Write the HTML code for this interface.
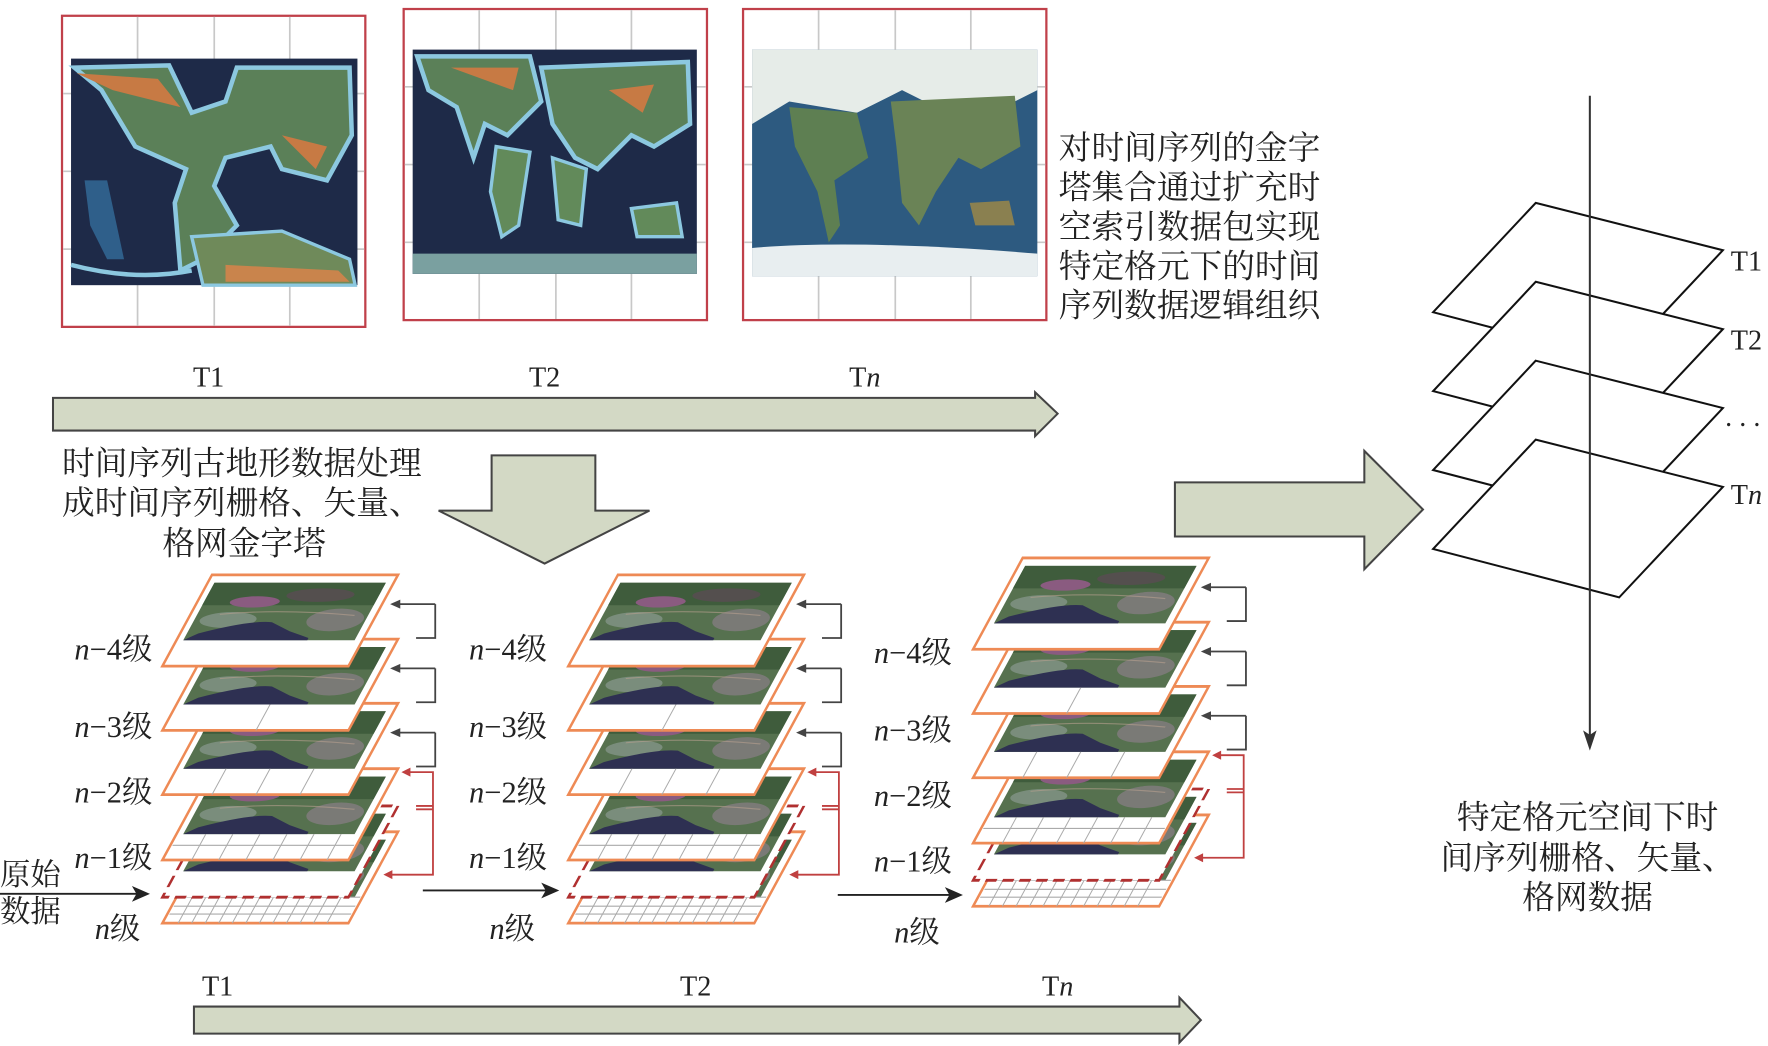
<!DOCTYPE html>
<html><head><meta charset="utf-8"><style>
html,body{margin:0;padding:0;background:#fff;overflow:hidden}
svg{display:block}
.s{font-family:"Liberation Serif","Noto Serif CJK SC",serif;fill:#222}
.c{font-family:"Liberation Serif","Noto Serif CJK SC",serif;fill:#222;font-size:29px}
</style></head><body>
<svg width="1768" height="1046" viewBox="0 0 1568 928" preserveAspectRatio="none" xmlns="http://www.w3.org/2000/svg">
<defs>
<g id="sat">
 <rect x="50" y="7" width="152" height="51" fill="#56714f"/>
 <rect x="50" y="7" width="152" height="20" fill="#3f5c3c"/>
 <ellipse cx="95" cy="24" rx="22" ry="5" fill="#8a5b80"/>
 <ellipse cx="150" cy="18" rx="30" ry="6" fill="#5e4a55" opacity=".7"/>
 <ellipse cx="175" cy="40" rx="25" ry="10" fill="#8a7f88" opacity=".7"/>
 <ellipse cx="80" cy="40" rx="25" ry="7" fill="#8a9a90" opacity=".7"/>
 <path d="M50 58 L60 52 Q100 40 120 42 L140 50 L160 56 L160 58 Z" fill="#2e3052"/>
 <path d="M70 35 Q120 30 190 36" stroke="#b8a090" stroke-width="1" fill="none" opacity=".6"/>
</g>
<g id="pyr">
 <g transform="translate(0,228) skewX(-28.5)">
  <rect x="44" y="0" width="165" height="81" fill="#fff" stroke="#ee8a55" stroke-width="2.5"/>
  <use href="#sat"/>
  <g stroke="#aaa" stroke-width="1">
   <line x1="46" y1="58" x2="207" y2="58"/><line x1="46" y1="66" x2="207" y2="66"/><line x1="46" y1="73" x2="207" y2="73"/>
   <path d="M58 58V81M70 58V81M82 58V81M94 58V81M106 58V81M118 58V81M130 58V81M142 58V81M154 58V81M166 58V81M178 58V81M190 58V81"/>
  </g>
 </g>
 <g transform="translate(0,205) skewX(-28.5)">
  <rect x="44" y="0" width="165" height="81" fill="#fff" stroke="#b03030" stroke-width="2.5" stroke-dasharray="10,5"/>
  <use href="#sat"/>
 </g>
 <g transform="translate(0,172) skewX(-28.5)">
  <rect x="44" y="0" width="165" height="81" fill="#fff" stroke="#ee8a55" stroke-width="2.5"/>
  <use href="#sat"/>
  <g stroke="#aaa" stroke-width="1">
   <line x1="46" y1="68" x2="207" y2="68"/>
   <path d="M70 58V81M94 58V81M118 58V81M142 58V81M166 58V81M190 58V81"/>
  </g>
 </g>
 <g transform="translate(0,114) skewX(-28.5)">
  <rect x="44" y="0" width="165" height="81" fill="#fff" stroke="#ee8a55" stroke-width="2.5"/>
  <use href="#sat"/>
  <path d="M88 58V81M127 58V81M166 58V81" stroke="#aaa"/>
 </g>
 <g transform="translate(0,57) skewX(-28.5)">
  <rect x="44" y="0" width="165" height="81" fill="#fff" stroke="#ee8a55" stroke-width="2.5"/>
  <use href="#sat"/>
  <path d="M127 58V81" stroke="#aaa"/>
 </g>
 <g transform="translate(0,0) skewX(-28.5)">
  <rect x="44" y="0" width="165" height="81" fill="#fff" stroke="#ee8a55" stroke-width="2.5"/>
  <use href="#sat"/>
 </g>
 <g stroke="#444" stroke-width="1.6" fill="none">
  <path d="M242 26 H206 M242 26 V56 H225"/>
  <path d="M242 83 H206 M242 83 V113 H225"/>
  <path d="M242 140 H206 M242 140 V170 H225"/>
 </g>
 <g fill="#444"><path d="M202 26 l9 -4 v8z"/><path d="M202 83 l9 -4 v8z"/><path d="M202 140 l9 -4 v8z"/></g>
 <g stroke="#c04040" stroke-width="1.6" fill="none">
  <path d="M215 175 H240 V266 H200"/>
  <path d="M225 205 H240 M225 208 H240"/>
 </g>
 <g fill="#c04040"><path d="M212 175 l8 -4 v8z"/><path d="M196 266 l8 -4 v8z"/></g>
</g>
</defs>
<rect width="1568" height="928" fill="#fff"/>

<g>
 <rect x="55" y="14" width="269" height="276" fill="#fff" stroke="#c0404a" stroke-width="2"/>
 <path d="M122 15V289M190 15V289M257 15V289M56 83H323M56 152H323M56 221H323" stroke="#c8c8c8" stroke-width="1.5"/>
 <rect x="63" y="52" width="254" height="201" fill="#1e2a48"/>
 <path d="M66 60 L150 58 L170 100 L200 90 L210 60 L310 60 L312 120 L290 160 L250 150 L240 130 L200 140 L190 165 L210 200 L180 230 L160 240 L155 180 L165 150 L120 130 L90 80 Z" fill="#5b8058" stroke="#8cc8e0" stroke-width="4"/>
 <path d="M68 65 L140 70 L160 95 L100 80 Z M250 120 L290 130 L280 150 Z" fill="#c77a44"/>
 <path d="M170 210 L250 205 L310 230 L315 253 L180 253 Z" fill="#6f8a5a" stroke="#8cc8e0" stroke-width="3"/>
 <path d="M200 235 L300 240 L310 250 L200 250Z" fill="#c9844c"/>
 <path d="M75 160 L95 160 L110 230 L95 230 L80 200Z" fill="#2f5f8a"/>
 <path d="M63 235 Q120 250 170 240" stroke="#8cc8e0" stroke-width="4" fill="none"/>
</g>
<g>
 <rect x="358" y="8" width="269" height="276" fill="#fff" stroke="#c0404a" stroke-width="2"/>
 <path d="M425 9V283M493 9V283M560 9V283M359 77H626M359 146H626M359 215H626" stroke="#c8c8c8" stroke-width="1.5"/>
 <rect x="366" y="44" width="252" height="199" fill="#1e2a48"/>
 <path d="M370 50 L470 50 L480 90 L450 120 L430 110 L420 140 L405 95 L380 80 Z" fill="#5b8058" stroke="#8cc8e0" stroke-width="4"/>
 <path d="M480 60 L610 55 L612 110 L580 130 L560 120 L530 150 L510 140 L490 110 Z" fill="#5b8058" stroke="#8cc8e0" stroke-width="4"/>
 <path d="M440 130 L470 135 L460 200 L445 210 L435 170Z M490 140 L520 150 L515 200 L495 195Z M560 185 L600 180 L605 210 L565 210Z" fill="#628a5a" stroke="#8cc8e0" stroke-width="3"/>
 <path d="M400 60 L460 60 L455 80Z M540 80 L580 75 L570 100Z" fill="#c77a44"/>
 <path d="M366 225 L618 225 L618 243 L366 243Z" fill="#7aa0a0"/>
</g>
<g>
 <rect x="659" y="8" width="269" height="276" fill="#fff" stroke="#c0404a" stroke-width="2"/>
 <path d="M726 9V283M794 9V283M861 9V283M660 77H927M660 146H927M660 215H927" stroke="#c8c8c8" stroke-width="1.5"/>
 <rect x="667" y="44" width="253" height="201" fill="#2d5a80"/>
 <path d="M667 44 H920 V80 L860 110 L800 80 L760 100 L700 90 L667 110Z" fill="#e6ece8"/>
 <path d="M700 95 L760 100 L770 140 L740 160 L745 200 L735 215 L725 170 L705 130Z" fill="#5e7f52"/>
 <path d="M790 90 L900 85 L905 130 L870 150 L850 140 L830 170 L815 200 L800 180 L795 130Z" fill="#6a8356"/>
 <path d="M860 180 L895 178 L900 200 L865 200Z" fill="#8a8050"/>
 <path d="M667 220 Q760 212 920 225 V245 H667Z" fill="#e8eef0"/>
</g>

<g class="s" font-size="25" text-anchor="middle">
 <text x="185" y="343">T1</text><text x="483" y="343">T2</text><text x="767" y="343">T<tspan font-style="italic">n</tspan></text>
</g>
<path d="M47 353 H918 V348 L938 367 L918 387 V382 H47Z" fill="#d3d9c5" stroke="#444" stroke-width="1.8"/>

<g class="c">
 <text x="939" y="141">对时间序列的金字</text>
 <text x="939" y="176">塔集合通过扩充时</text>
 <text x="939" y="211">空索引数据包实现</text>
 <text x="939" y="246">特定格元下的时间</text>
 <text x="939" y="281">序列数据逻辑组织</text>
</g>

<path d="M436 404 H528 V453 H576 L483 500 L389 453 H436Z" fill="#d3d9c5" stroke="#444" stroke-width="1.8"/>
<g class="c">
 <text x="55" y="421">时间序列古地形数据处理</text>
 <text x="55" y="456">成时间序列栅格、矢量、</text>
 <text x="144" y="492">格网金字塔</text>
</g>

<path d="M1042 428 H1210 V400 L1262 452 L1210 505 V476 H1042Z" fill="#d3d9c5" stroke="#444" stroke-width="1.8"/>

<g fill="#fff" stroke="#111" stroke-width="1.8">
 <path d="M1362 180 L1528 222 L1436 320 L1271 277Z"/>
 <path d="M1362 250 L1528 292 L1436 390 L1271 347Z"/>
 <path d="M1362 320 L1528 362 L1436 460 L1271 417Z"/>
 <path d="M1362 390 L1528 432 L1436 530 L1271 487Z"/>
</g>
<line x1="1410" y1="85" x2="1410" y2="655" stroke="#333" stroke-width="1.8"/>
<path d="M1410 666 L1404 648 L1410 652 L1416 648Z" fill="#333"/>
<g class="s" font-size="25">
 <text x="1535" y="240">T1</text><text x="1535" y="310">T2</text>
 <text x="1530" y="378">. . .</text>
 <text x="1535" y="447">T<tspan font-style="italic">n</tspan></text>
</g>
<g class="c" text-anchor="middle">
 <text x="1408" y="735">特定格元空间下时</text>
 <text x="1408" y="771">间序列栅格、矢量、</text>
 <text x="1408" y="806">格网数据</text>
</g>

<use href="#pyr" transform="translate(144,510)"/>
<use href="#pyr" transform="translate(504,510)"/>
<use href="#pyr" transform="translate(863,495)"/>

<g class="s" font-size="27">
 <g transform="translate(66,0)">
  <text y="585"><tspan font-style="italic">n</tspan>−4级</text>
  <text y="654"><tspan font-style="italic">n</tspan>−3级</text>
  <text y="712"><tspan font-style="italic">n</tspan>−2级</text>
  <text y="770"><tspan font-style="italic">n</tspan>−1级</text>
  <text x="18" y="833"><tspan font-style="italic">n</tspan>级</text>
 </g>
 <g transform="translate(416,0)">
  <text y="585"><tspan font-style="italic">n</tspan>−4级</text>
  <text y="654"><tspan font-style="italic">n</tspan>−3级</text>
  <text y="712"><tspan font-style="italic">n</tspan>−2级</text>
  <text y="770"><tspan font-style="italic">n</tspan>−1级</text>
  <text x="18" y="833"><tspan font-style="italic">n</tspan>级</text>
 </g>
 <g transform="translate(775,0)">
  <text y="588"><tspan font-style="italic">n</tspan>−4级</text>
  <text y="657"><tspan font-style="italic">n</tspan>−3级</text>
  <text y="715"><tspan font-style="italic">n</tspan>−2级</text>
  <text y="773"><tspan font-style="italic">n</tspan>−1级</text>
  <text x="18" y="836"><tspan font-style="italic">n</tspan>级</text>
 </g>
 <text x="0" y="785">原始</text>
 <text x="0" y="818">数据</text>
</g>
<g stroke="#222" stroke-width="1.6">
 <line x1="0" y1="793" x2="122" y2="793"/>
 <line x1="375" y1="790" x2="485" y2="790"/>
 <line x1="743" y1="794" x2="843" y2="794"/>
</g>
<g fill="#222">
 <path d="M133 793 L117 786 L121 793 L117 800Z"/>
 <path d="M496 790 L480 783 L484 790 L480 797Z"/>
 <path d="M854 794 L838 787 L842 794 L838 801Z"/>
</g>

<g class="s" font-size="25" text-anchor="middle">
 <text x="193" y="883">T1</text><text x="617" y="883">T2</text><text x="938" y="883">T<tspan font-style="italic">n</tspan></text>
</g>
<path d="M172 893 H1046 V885 L1065 905 L1046 925 V917 H172Z" fill="#d3d9c5" stroke="#444" stroke-width="1.8"/>
</svg>
</body></html>
